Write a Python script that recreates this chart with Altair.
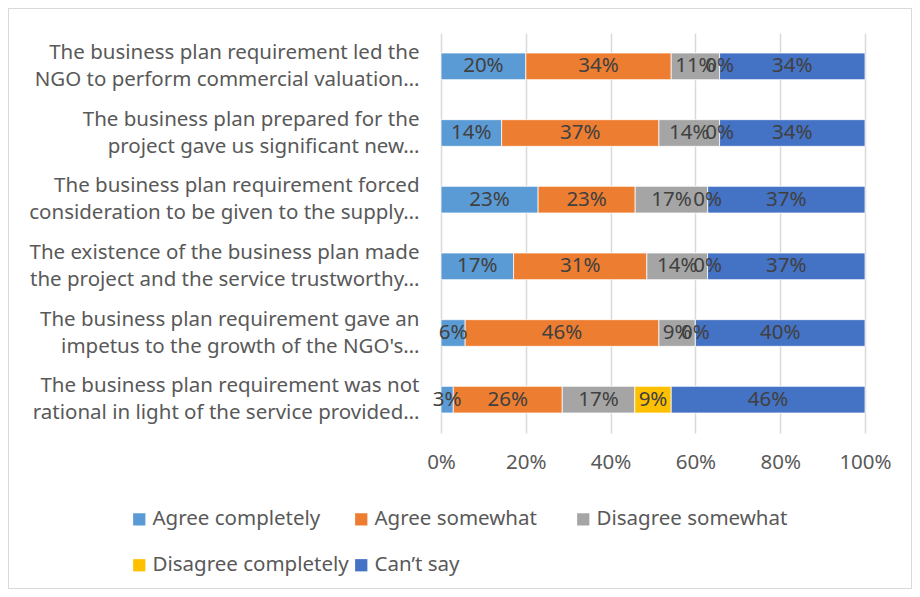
import altair as alt
import pandas as pd

categories = [
    "The business plan requirement led the|NGO  to perform commercial valuation…",
    "The business plan prepared for the|project gave us significant new…",
    "The business plan requirement forced|consideration to be given to the supply…",
    "The existence of the business plan made|the project and the service trustworthy…",
    "The business plan requirement gave an|impetus to the growth of the NGO's…",
    "The business plan requirement was not|rational in light of the service provided…",
]
series = ["Agree completely", "Agree somewhat", "Disagree somewhat",
          "Disagree completely", "Can’t say"]
colors = ["#5B9BD5", "#ED7D31", "#A5A5A5", "#FFC000", "#4472C4"]

agree_completely = [20.0, 14.3, 22.9, 17.1, 5.7, 2.9]
agree_somewhat = [34.3, 37.1, 22.9, 31.4, 45.7, 25.7]
disagree_somewhat = [11.4, 14.3, 17.1, 14.3, 8.6, 17.1]
disagree_completely = [0.0, 0.0, 0.0, 0.0, 0.0, 8.6]
cant_say = [34.3, 34.3, 37.1, 37.1, 40.0, 45.7]
x_ticks = [0, 0.2, 0.4, 0.6, 0.8, 1.0]

values = [agree_completely, agree_somewhat, disagree_somewhat,
          disagree_completely, cant_say]
rows = []
for si, (s, vals) in enumerate(zip(series, values)):
    for c, v in zip(categories, vals):
        rows.append({"cat": c, "series": s, "order": si, "value": v})
df = pd.DataFrame(rows)

FONT = "Noto Sans"
FS = 20.5
W, H = 424, 400

base = alt.Chart(df).transform_stack(
    stack="value", groupby=["cat"], as_=["x0", "x1"],
    sort=[alt.SortField("order", order="ascending")], offset="normalize"
).transform_calculate(
    xm="(datum.x0 + datum.x1) / 2",
    lbl="format(datum.value / 100, '.0%')",
)

yenc = alt.Y("cat:N", sort=categories, title=None,
             scale=alt.Scale(paddingInner=0.6, paddingOuter=0.3),
             axis=alt.Axis(labelExpr="split(datum.label, '|')", labelFont=FONT,
                           labelFontSize=FS, labelColor="#595959", labelLimit=500,
                           labelLineHeight=27, labelPadding=22, labelOffset=-13.5,
                           domain=False, ticks=False, grid=False))

bars = base.mark_bar(stroke="white", strokeWidth=0.75).encode(
    x=alt.X("x0:Q", title=None,
            scale=alt.Scale(domain=[0, 1], nice=False),
            axis=alt.Axis(values=x_ticks, format=".0%", labelFont=FONT,
                          labelFontSize=FS, labelColor="#595959", labelPadding=19,
                          labelFlush=False, labelOverlap=False,
                          domain=False, ticks=False, gridColor="#D9D9D9",
                          gridWidth=1.5)),
    x2="x1:Q",
    y=yenc,
    color=alt.Color("series:N", sort=series,
                    scale=alt.Scale(domain=series, range=colors),
                    legend=alt.Legend(title=None, orient="none", legendX=-312,
                                      legendY=476, columns=3, gridAlign="all",
                                      direction="horizontal",
                                      columnPadding=2, rowPadding=25,
                                      symbolType="square", symbolSize=150,
                                      symbolStrokeWidth=0, labelFont=FONT,
                                      labelFontSize=FS, labelColor="#595959",
                                      labelOffset=3, labelLimit=400)),
    order=alt.Order("order:Q"),
)

texts = base.mark_text(font=FONT, fontSize=FS, color="#404040").encode(
    x="xm:Q",
    y=alt.Y("cat:N", sort=categories),
    text="lbl:N",
)

border = alt.Chart(df).mark_rect(fill=None, stroke="#D9D9D9", strokeWidth=1).encode(
    x=alt.value(-432.5), x2=alt.value(W + 46.5),
    y=alt.value(-24.5), y2=alt.value(H + 155.5),
)

chart = alt.layer(bars, texts, border).properties(
    width=W, height=H,
    autosize=alt.AutoSizeParams(type="none"),
    padding={"left": 433, "top": 25, "right": 47, "bottom": 156},
).configure_view(stroke=None)

chart.save("out.html", embed_options={"renderer": "svg", "actions": False})
